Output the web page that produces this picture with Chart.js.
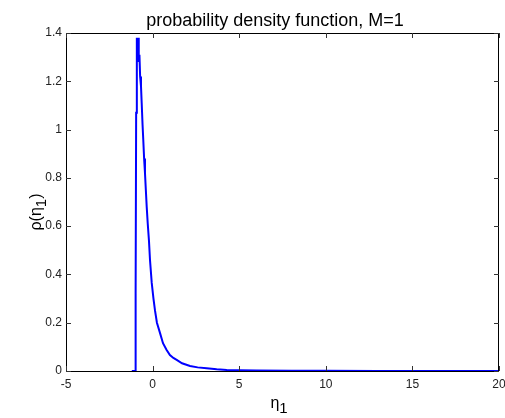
<!DOCTYPE html>
<html>
<head>
<meta charset="utf-8">
<title>probability density function, M=1</title>
<script src="https://cdn.jsdelivr.net/npm/chart.js@4.4.0/dist/chart.umd.min.js"></script>
<style>
    body { margin: 0; background: #fff; }
    canvas { display: block; }
</style>
</head>
<body>
<canvas id="pdfChart" width="505" height="418"></canvas>
<script>
// eta_1 sample positions and density
const etaValues = [-1.2, -1.0, -0.98, -0.95, -0.91, -0.87, -0.84, -0.80, -0.76, -0.72, -0.67, -0.63,
    -0.58, -0.54, -0.49, -0.44, -0.39, -0.34, -0.28, -0.21, -0.15, -0.05, 0.05, 0.14, 0.25,
    0.43, 0.6, 0.81, 1.0, 1.2, 1.39, 1.7, 2.16, 2.6, 3.12, 3.7, 4.28, 5, 6, 8, 10, 13, 16, 20];
const densityValues = [0, 0, 0.32, 1.07, 1.38, 1.33, 1.38, 1.28, 1.31, 1.22, 1.18, 1.11,
    1.02, 0.96, 0.88, 0.82, 0.75, 0.68, 0.61, 0.54, 0.46, 0.365, 0.30, 0.25, 0.20,
    0.157, 0.115, 0.087, 0.066, 0.054, 0.046, 0.032, 0.021, 0.015, 0.011, 0.007, 0.004,
    0.003, 0.002, 0.001, 0.001, 0.0005, 0.0003, 0.0002];

const xTickValues = [-5, 0, 5, 10, 15, 20];
const yTickValues = [0, 0.2, 0.4, 0.6, 0.8, 1, 1.2, 1.4];

const titleText = 'probability density function, M=1';

// draw text made of several pieces (subscripts get a dy)
function drawSubText(ctx, parts, cx, cy) {
    let total = 0;
    parts.forEach(p => {
        ctx.font = p.font;
        p.w = ctx.measureText(p.text).width;
        total += p.w;
    });
    let x = cx - total / 2;
    parts.forEach(p => {
        ctx.font = p.font;
        ctx.fillText(p.text, x, cy + (p.dy || 0));
        x += p.w;
    });
}

// matlab style box, inward ticks and labels
const matlabAxes = {
    id: 'matlabAxes',
    afterDraw(chart) {
        const ctx = chart.ctx;
        const area = chart.chartArea;
        const xs = chart.scales.x;
        const ys = chart.scales.y;
        ctx.save();
        ctx.strokeStyle = '#000';
        ctx.lineWidth = 1;
        ctx.strokeRect(area.left + 0.5, area.top + 0.5, area.right - area.left - 1, area.bottom - area.top);

        ctx.strokeStyle = '#333';
        ctx.beginPath();
        xTickValues.forEach(v => {
            const px = Math.round(xs.getPixelForValue(v)) + 0.5;
            ctx.moveTo(px, area.bottom);
            ctx.lineTo(px, area.bottom - 5);
            ctx.moveTo(px, area.top);
            ctx.lineTo(px, area.top + 5);
        });
        yTickValues.forEach(v => {
            const py = Math.round(ys.getPixelForValue(v)) + 0.5;
            ctx.moveTo(area.left, py);
            ctx.lineTo(area.left + 5, py);
            ctx.moveTo(area.right, py);
            ctx.lineTo(area.right - 5, py);
        });
        ctx.stroke();

        ctx.fillStyle = '#000';
        ctx.textBaseline = 'alphabetic';

        // title
        ctx.font = '18px Arial';
        ctx.textAlign = 'center';
        ctx.fillText(titleText, 275, 26);
        ctx.textAlign = 'left';

        // x label
        drawSubText(ctx, [
            { text: 'η', font: '16px Arial' },
            { text: '1', font: '15px Arial', dy: 5 }
        ], 279, 408);

        // y label, rotated
        ctx.translate(41, 212);
        ctx.rotate(-Math.PI / 2);
        drawSubText(ctx, [
            { text: 'ρ(η', font: '16px Arial' },
            { text: '1', font: '15px Arial', dy: 5 },
            { text: ')', font: '16px Arial' }
        ], 0, 0);
        ctx.restore();
    }
};

const points = etaValues.map((x, i) => ({ x: x, y: densityValues[i] }));

const pdfChart = new Chart(document.getElementById('pdfChart'), {
    type: 'line',
    data: {
        datasets: [{
            data: points,
            borderColor: '#0000ff',
            borderWidth: 2,
            pointRadius: 0,
            tension: 0,
            fill: false,
            clip: 3
        }]
    },
    options: {
        responsive: false,
        animation: false,
        layout: {
            autoPadding: false,
            padding: { left: 0, right: 6, top: 33, bottom: 0 }
        },
        scales: {
            x: {
                type: 'linear',
                min: -5,
                max: 20,
                afterBuildTicks: scale => { scale.ticks = xTickValues.map(v => ({ value: v })); },
                afterFit: scale => {
                    scale.height = 47;
                    scale.paddingLeft = 0;
                    scale.paddingRight = 0;
                },
                grid: { display: false, drawTicks: false },
                border: { display: false },
                ticks: {
                    padding: 6,
                    color: '#222',
                    font: { family: 'Arial', size: 12 },
                    maxRotation: 0,
                    callback: v => String(v)
                }
            },
            y: {
                min: 0,
                max: 1.4,
                afterBuildTicks: scale => { scale.ticks = yTickValues.map(v => ({ value: v })); },
                afterFit: scale => {
                    scale.width = 66;
                    scale.paddingTop = 0;
                    scale.paddingBottom = 0;
                },
                grid: { display: false, drawTicks: false },
                border: { display: false },
                ticks: {
                    padding: 4,
                    color: '#222',
                    font: { family: 'Arial', size: 12 },
                    callback: v => String(v)
                }
            }
        },
        plugins: {
            legend: { display: false },
            tooltip: { enabled: false },
            title: { display: false }
        }
    },
    plugins: [matlabAxes]
});
</script>
</body>
</html>
